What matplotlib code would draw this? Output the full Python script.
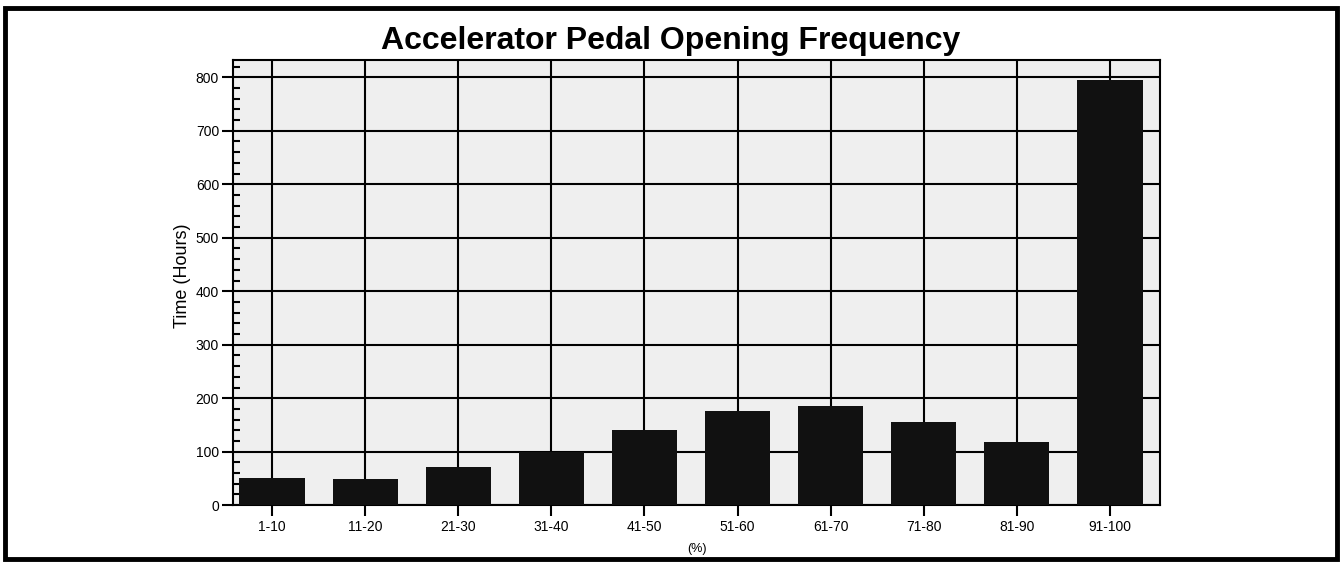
# Accelerator pedal opening frequency bar chart
import matplotlib
matplotlib.use('Agg')
import matplotlib.pyplot as plt
from matplotlib.patches import Rectangle
from matplotlib.ticker import MultipleLocator

# data
categories = ['1-10', '11-20', '21-30', '31-40', '41-50', '51-60', '61-70', '71-80', '81-90', '91-100']
hours = [51, 49, 72, 100, 140, 176, 186, 156, 118, 795]

plt.rcParams['font.family'] = ['Liberation Sans', 'DejaVu Sans']

fig = plt.figure(figsize=(13.42, 5.67), dpi=100)
ax = fig.add_axes([0.1736, 0.109, 0.691, 0.785])
ax.set_facecolor('#efefef')

x = list(range(len(categories)))
ax.bar(x, hours, width=0.7, color='#111111', zorder=3)

# grid
ax.set_axisbelow(True)
ax.grid(True, which='major', color='black', linewidth=1.5, zorder=1)

ax.set_xlim(-0.42, 9.54)
ax.set_ylim(0, 832)
ax.set_xticks(x)
ax.set_xticklabels(categories, fontsize=10)
ax.yaxis.set_major_locator(MultipleLocator(100))
ax.yaxis.set_minor_locator(MultipleLocator(20))
ax.tick_params(axis='y', which='major', direction='out', length=8, width=1.5, labelsize=10, pad=2)
ax.tick_params(axis='y', which='minor', direction='in', length=5, width=1.5)
ax.tick_params(axis='x', which='major', direction='out', length=8, width=1.5, pad=3)
for s in ax.spines.values():
    s.set_linewidth(1.5)

ax.set_ylabel('Time (Hours)', fontsize=13, labelpad=1)
ax.yaxis.set_label_coords(-0.045, 0.515)
ax.set_xlabel('(%)', fontsize=9, labelpad=6)
fig.text(0.5, 0.928, 'Accelerator Pedal Opening Frequency', ha='center', va='center',
         fontsize=23, fontweight='bold')

# scan border
fig.patches.append(Rectangle((0.004, 0.014), 0.992, 0.972, transform=fig.transFigure,
                             fill=False, edgecolor='black', linewidth=3.5))

fig.savefig('out.png', dpi=100)
